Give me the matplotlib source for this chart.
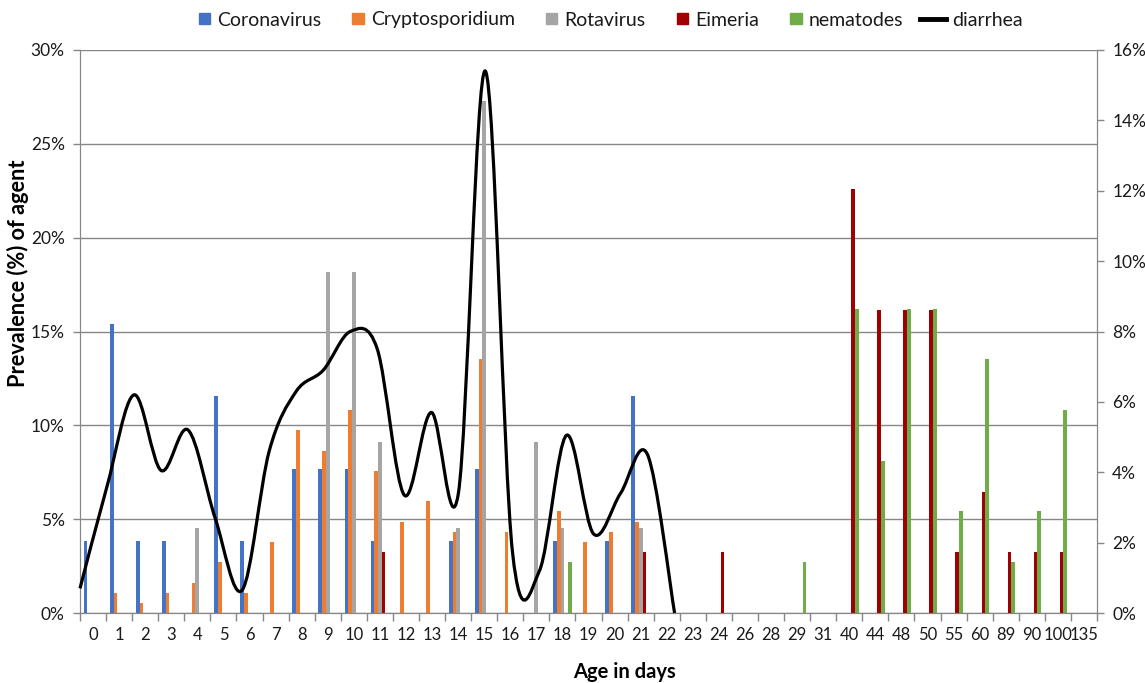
import matplotlib.pyplot as plt
import matplotlib.patches as mpatches
from matplotlib.path import Path
from matplotlib.lines import Line2D
from matplotlib.legend_handler import HandlerPatch
import numpy as np

plt.rcParams['font.family'] = ['Lato', 'DejaVu Sans']

# age categories (days)
ages = ['0', '1', '2', '3', '4', '5', '6', '7', '8', '9', '10', '11', '12', '13',
        '14', '15', '16', '17', '18', '19', '20', '21', '22', '23', '24', '26',
        '28', '29', '31', '40', '44', '48', '50', '55', '60', '89', '90', '100', '135']

# prevalence of each agent, % (left axis)
coronavirus = [3.85, 15.38, 3.85, 3.85, 0, 11.54, 3.85, 0, 7.69, 7.69, 7.69, 3.85, 0, 0,
               3.85, 7.69, 0, 0, 3.85, 0, 3.85, 11.54, 0, 0, 0, 0,
               0, 0, 0, 0, 0, 0, 0, 0, 0, 0, 0, 0, 0]
cryptosporidium = [0, 1.08, 0.54, 1.08, 1.62, 2.70, 1.08, 3.78, 9.73, 8.65, 10.81, 7.57, 4.86, 5.95,
                   4.32, 13.51, 4.32, 0, 5.41, 3.78, 4.32, 4.86, 0, 0, 0, 0,
                   0, 0, 0, 0, 0, 0, 0, 0, 0, 0, 0, 0, 0]
rotavirus = [0, 0, 0, 0, 4.55, 0, 0, 0, 0, 18.18, 18.18, 9.09, 0, 0,
             4.55, 27.27, 0, 9.09, 4.55, 0, 0, 4.55, 0, 0, 0, 0,
             0, 0, 0, 0, 0, 0, 0, 0, 0, 0, 0, 0, 0]
eimeria = [0, 0, 0, 0, 0, 0, 0, 0, 0, 0, 0, 3.23, 0, 0,
           0, 0, 0, 0, 0, 0, 0, 3.23, 0, 0, 3.23, 0,
           0, 0, 0, 22.58, 16.13, 16.13, 16.13, 3.23, 6.45, 3.23, 3.23, 3.23, 0]
nematodes = [0, 0, 0, 0, 0, 0, 0, 0, 0, 0, 0, 0, 0, 0,
             0, 0, 0, 0, 2.70, 0, 0, 0, 0, 0, 0, 0,
             0, 2.70, 0, 16.22, 8.11, 16.22, 16.22, 5.41, 13.51, 2.70, 5.41, 10.81, 0]

# diarrhea, % (right axis), days 0-22
diarrhea = [0.7, 3.6, 6.2, 4.05, 5.2, 2.7, 0.65, 4.6, 6.3, 6.9, 8.0, 7.5, 3.35, 5.7,
            3.4, 15.4, 1.75, 1.2, 5.05, 2.25, 3.4, 4.5, 0.0]

series = [
    ('Coronavirus', coronavirus, '#4472C4'),
    ('Cryptosporidium', cryptosporidium, '#ED7D31'),
    ('Rotavirus', rotavirus, '#A5A5A5'),
    ('Eimeria', eimeria, '#A00000'),
    ('nematodes', nematodes, '#70AD47'),
]

axis_gray = '#868686'
text_col = '#1a1a1a'

fig = plt.figure(figsize=(11.45, 6.83), dpi=100)
ax = fig.add_axes([80 / 1145, 70 / 683, 1017 / 1145, 563 / 683])

x = np.arange(len(ages))
w = 0.142
for k, (name, vals, color) in enumerate(series):
    ax.bar(x + (k - 2) * w, vals, width=w, color=color, linewidth=0, zorder=3)

ax.set_xlim(-0.5, len(ages) - 0.5)
ax.set_ylim(0, 30)
ax.set_yticks(np.arange(0, 31, 5))
ax.yaxis.set_major_formatter(lambda v, p: f"{v:.0f}%")
ax.grid(axis='y', color=axis_gray, lw=1.0, zorder=0)
ax.set_axisbelow(True)
ax.set_xticks(x, ages)
ax.set_xticks(np.arange(-0.5, len(ages)), minor=True)
ax.tick_params(axis='x', which='major', length=0, pad=10, labelsize=12, colors=text_col)
ax.tick_params(axis='x', which='minor', length=6, color=axis_gray, width=1)
ax.tick_params(axis='y', length=5, color=axis_gray, width=1, pad=6, labelsize=12.5,
               labelcolor=text_col)
ax.spines['top'].set_visible(False)
for s in ('left', 'bottom', 'right'):
    ax.spines[s].set_color(axis_gray)
ax.set_ylabel('Prevalence (%) of agent', fontsize=15.7, fontweight='bold')
ax.yaxis.set_label_coords(-0.050, 0.604)
ax.set_xlabel('Age in days', fontsize=14.5, fontweight='bold')
ax.xaxis.set_label_coords(0.535, -0.087)

# diarrhea on the secondary axis, smoothed like Excel (Catmull-Rom Bezier)
ax2 = ax.twinx()
ax2.set_ylim(0, 16)
ax2.set_yticks(np.arange(0, 17, 2))
ax2.yaxis.set_major_formatter(lambda v, p: f"{v:.0f}%")
ax2.tick_params(axis='y', length=5, color=axis_gray, width=1, pad=6, labelsize=12.5,
                labelcolor=text_col)
ax2.spines['top'].set_visible(False)
for s in ('left', 'bottom', 'right'):
    ax2.spines[s].set_color(axis_gray)

line_step = 1.0364
pts = np.column_stack([-0.5 + np.arange(len(diarrhea)) * line_step, diarrhea])
verts = [pts[0]]
codes = [Path.MOVETO]
n = len(pts)
for i in range(n - 1):
    p0 = pts[i - 1] if i > 0 else pts[i]
    p1, p2 = pts[i], pts[i + 1]
    p3 = pts[i + 2] if i + 2 < n else pts[i + 1]
    verts += [p1 + (p2 - p0) / 6, p2 - (p3 - p1) / 6, p2]
    codes += [Path.CURVE4] * 3
ax2.add_patch(mpatches.PathPatch(Path(verts, codes), fill=False, edgecolor='black',
                                 lw=2.3, zorder=5, clip_on=False))


def square_patch(legend, orig_handle, xdescent, ydescent, width, height, fontsize):
    s = height * 0.85
    return mpatches.Rectangle((-xdescent + width - s, -ydescent + (height - s) / 2), s, s)


handles = [mpatches.Patch(color=c, label=nm) for nm, _, c in series]
handles.append(Line2D([], [], color='black', lw=3.5, label='diarrhea'))
fig.legend(handles=handles, loc='center', bbox_to_anchor=(604 / 1145, 1 - 20 / 683),
           ncol=6, frameon=False, fontsize=14, handlelength=1.3, handletextpad=0.35,
           columnspacing=0.9, labelcolor=text_col,
           handler_map={mpatches.Patch: HandlerPatch(patch_func=square_patch)})

fig.savefig('out.png', dpi=100)
